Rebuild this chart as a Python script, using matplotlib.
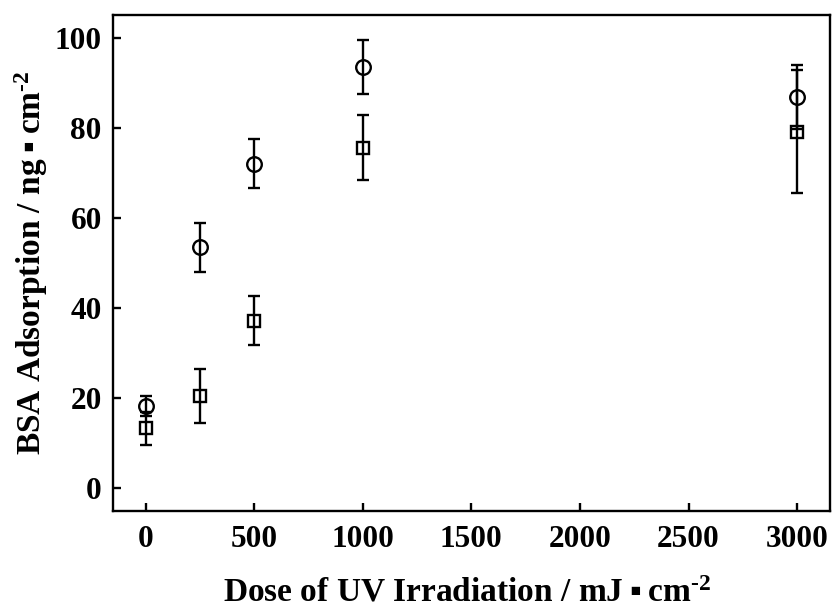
import matplotlib
matplotlib.use("Agg")
import matplotlib.pyplot as plt

plt.rcParams['font.family'] = ['Liberation Serif', 'DejaVu Serif']
plt.rcParams['font.weight'] = 'bold'
plt.rcParams['mathtext.fontset'] = 'custom'
plt.rcParams['mathtext.rm'] = 'Liberation Serif:bold'
plt.rcParams['mathtext.bf'] = 'Liberation Serif:bold'
plt.rcParams['mathtext.default'] = 'rm'

# UV dose (mJ/cm2) and adsorbed BSA (ng/cm2)
dose = [0, 250, 500, 1000, 3000]
bsa_circle = [18.3, 53.5, 72.0, 93.4, 86.8]
err_circle = [2.2, 5.4, 5.4, 6.0, 7.0]
bsa_square = [13.3, 20.5, 37.2, 75.6, 79.1]
err_square = [3.7, 6.0, 5.5, 7.3, 13.6]

fig = plt.figure(figsize=(8.32, 6.07), dpi=100)
ax = fig.add_axes([0.1358, 0.1582, 0.8615, 0.8171])

ax.errorbar(dose, bsa_circle, yerr=err_circle, fmt='o', color='black',
            mfc='none', mec='black', ms=10.5, mew=1.7, elinewidth=1.7,
            capsize=4, capthick=1.7)
ax.errorbar(dose, bsa_square, yerr=err_square, fmt='s', color='black',
            mfc='none', mec='black', ms=8.5, mew=1.7, elinewidth=1.7,
            capsize=4, capthick=1.7)

ax.set_xlim(-150, 3150)
ax.set_ylim(-5, 105)
ax.set_xticks([0, 500, 1000, 1500, 2000, 2500, 3000])
ax.set_yticks([0, 20, 40, 60, 80, 100])

for s in ax.spines.values():
    s.set_linewidth(1.7)
ax.tick_params(direction='in', length=6, width=1.7, labelsize=22.5)
ax.tick_params(axis='x', pad=10)
ax.tick_params(axis='y', pad=8)

dot = '\u2009\u25aa\u2009'
ax.set_xlabel('Dose of UV Irradiation / mJ' + dot + 'cm$^{\\text{-2}}$',
              fontsize=24, fontweight='bold', va='baseline')
ax.xaxis.set_label_coords(0.494, -0.182)
ax.set_ylabel('BSA Adsorption / ng' + dot + 'cm$^{\\text{-2}}$',
              fontsize=24, fontweight='bold')
ax.yaxis.set_label_coords(-0.088, 0.5)

fig.savefig('out.png', dpi=100)
